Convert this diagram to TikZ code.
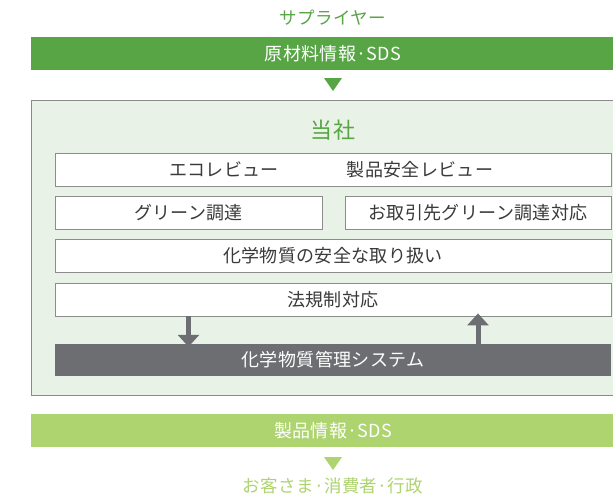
\documentclass[tikz,border=0pt]{standalone}
\usepackage{fontspec}
\setmainfont{Noto Sans CJK JP}[LetterSpace=2]
\usetikzlibrary{arrows.meta}
\definecolor{dkgreen}{HTML}{58A546}
\definecolor{ltgreen}{HTML}{ADD46F}
\definecolor{panel}{HTML}{E9F2E6}
\definecolor{panelline}{HTML}{8A8A8A}
\definecolor{boxline}{HTML}{8C8C8C}
\definecolor{sysgray}{HTML}{6D6E71}
\definecolor{txt}{HTML}{3A3A3A}
\tikzset{
  bar/.style={minimum height=33pt, inner sep=0pt, text=white, font=\fontsize{18}{20}\selectfont},
  wbox/.style={draw=boxline, line width=0.8pt, fill=white, minimum height=33pt, inner sep=0pt, text=txt, font=\fontsize{18}{20}\selectfont},
  title/.style={inner sep=0pt, font=\fontsize{17.5}{20}\selectfont},
  garrow/.style={draw=sysgray, line width=5pt, -{Triangle[width=21pt 0,length=12pt 0]}}
}
\begin{document}
\begin{tikzpicture}[x=1pt,y=-1pt]
\useasboundingbox (0,0) rectangle (613,496);
% supplier
\node[title, text=dkgreen] (sup) at (333,18) {サプライヤー};
\node[bar, fill=dkgreen, minimum width=604pt] (raw) at (333,53.5) {原材料情報·SDS};
\fill[dkgreen] (324,78) -- (342,78) -- (333,91) -- cycle;
% company panel
\node[draw=panelline, line width=1pt, fill=panel, minimum width=604pt, minimum height=295pt, inner sep=0pt] (co) at (333,247.5) {};
\node[title, text=dkgreen, font=\fontsize{22}{24}\selectfont] (we) at (333,130) {当社};
\node[wbox, minimum width=556pt] (rev) at (333,169.5) {};
\node[text=txt, inner sep=0pt, font=\fontsize{18}{20}\selectfont] (eco) at (224,169.5) {エコレビュー};
\node[text=txt, inner sep=0pt, font=\fontsize{18}{20}\selectfont] (safe) at (420,169.5) {製品安全レビュー};
\node[wbox, minimum width=267pt] (grn) at (188.5,212.5) {グリーン調達};
\node[wbox, minimum width=266pt] (cli) at (478,212.5) {お取引先グリーン調達対応};
\node[wbox, minimum width=556pt] (chem) at (333,256) {化学物質の安全な取り扱い};
\node[wbox, minimum width=556pt] (law) at (333,299.5) {法規制対応};
\node[bar, fill=sysgray, minimum width=556pt, minimum height=32pt] (sys) at (333,360) {化学物質管理システム};
\draw[garrow] (law.south -| grn.center) -- ([yshift=-3pt]sys.north -| grn.center);
\draw[garrow] (sys.north -| cli.center) -- ([yshift=3pt]law.south -| cli.center);
% output
\node[bar, fill=ltgreen, minimum width=604pt] (prod) at (333,430.5) {製品情報·SDS};
\fill[ltgreen] (324,457) -- (342,457) -- (333,470) -- cycle;
\node[title, text=ltgreen] (cust) at (333,486) {お客さま·消費者·行政};
\end{tikzpicture}
\end{document}
